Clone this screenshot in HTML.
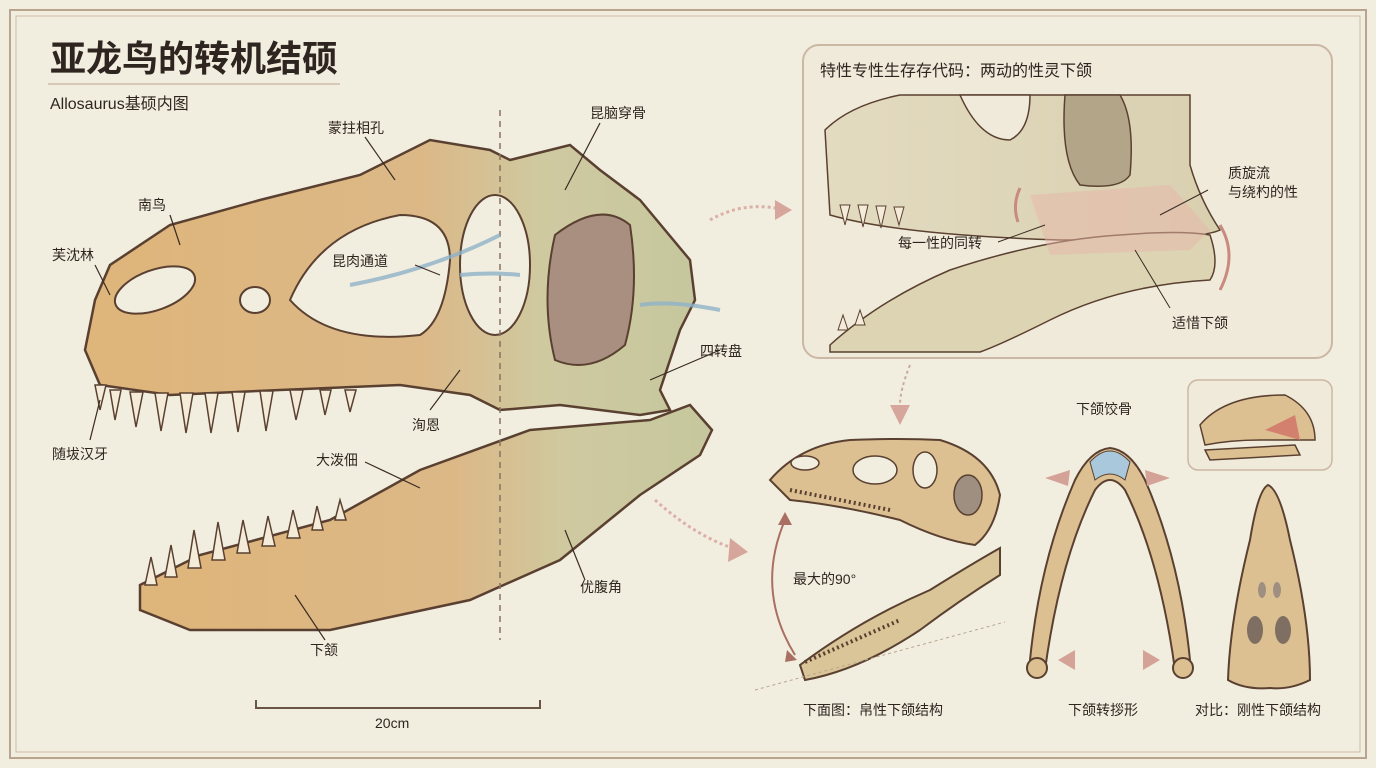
<!DOCTYPE html>
<html><head><meta charset="utf-8"><style>
body{margin:0;width:1376px;height:768px;overflow:hidden;background:#f2eedf;font-family:"Liberation Sans","Noto Sans CJK SC",sans-serif;}
svg{position:absolute;left:0;top:0}
text{font-family:"Liberation Sans","Noto Sans CJK SC",sans-serif;fill:#2e2520}
</style></head><body>
<svg width="1376" height="768" viewBox="0 0 1376 768">
<defs>
<linearGradient id="bone" x1="0" x2="1" y1="0" y2="0">
<stop offset="0" stop-color="#deb57a"/><stop offset="0.55" stop-color="#dcb887"/><stop offset="0.75" stop-color="#cfc9a0"/><stop offset="1" stop-color="#c6c79e"/></linearGradient>
<linearGradient id="panel" x1="0" x2="1"><stop offset="0" stop-color="#e3dbc0"/><stop offset="1" stop-color="#d9d0b0"/></linearGradient>
</defs>
<rect x="0" y="0" width="1376" height="768" fill="#f2eedf"/>
<rect x="10" y="10" width="1356" height="748" fill="none" stroke="#b9a48e" stroke-width="2"/>
<rect x="16" y="16" width="1344" height="736" fill="none" stroke="#cdbba6" stroke-width="1"/>
<text x="50" y="71" font-size="36" font-weight="bold" fill="#3a2c22">亚龙鸟的转机结硕</text>
<line x1="48" y1="84" x2="340" y2="84" stroke="#b9a48e" stroke-width="1"/>
<text x="50" y="109" font-size="16">Allosaurus基硕内图</text>

<path d="M95,300 L110,265 L170,225 L260,200 L360,175 L430,140 L490,150 L510,160 L570,145 L600,170 L640,200 L690,260 L695,300 L680,330 L660,390 L670,410 L640,415 L560,405 L500,410 L470,395 L400,385 L280,390 L170,395 L100,385 L85,350 Z" fill="url(#bone)" stroke="#5a4030" stroke-width="2.5"/>
<ellipse cx="155" cy="290" rx="42" ry="20" transform="rotate(-20 155 290)" fill="#f2eedf" stroke="#5a4030" stroke-width="2"/>
<ellipse cx="255" cy="300" rx="15" ry="13" fill="#f2eedf" stroke="#5a4030" stroke-width="2"/>
<path d="M290,300 Q320,230 400,215 Q450,215 450,260 Q445,320 420,335 Q330,345 290,300Z" fill="#f2eedf" stroke="#5a4030" stroke-width="2"/>
<ellipse cx="495" cy="265" rx="35" ry="70" fill="#f2eedf" stroke="#5a4030" stroke-width="2"/>
<path d="M555,235 Q600,200 630,225 Q640,290 625,345 Q590,375 555,360 Q540,300 555,235Z" fill="#a88f7f" stroke="#5a4030" stroke-width="2"/>
<g fill="#f4ecd8" stroke="#5a4030" stroke-width="1.5">
<path d="M95,385 l5,25 l6,-25Z"/><path d="M110,390 l5,30 l6,-30Z"/><path d="M130,392 l6,35 l7,-35Z"/><path d="M155,393 l6,38 l7,-38Z"/><path d="M180,393 l6,40 l7,-40Z"/><path d="M205,393 l6,40 l7,-40Z"/><path d="M232,392 l6,40 l7,-40Z"/><path d="M260,391 l6,40 l7,-40Z"/><path d="M290,390 l6,30 l7,-30Z"/><path d="M320,390 l5,25 l6,-25Z"/><path d="M345,390 l5,22 l6,-22Z"/>
</g>
<path d="M140,585 L200,555 L330,520 L420,470 L530,430 L650,420 L690,405 L712,430 L700,455 L640,495 L560,560 L470,600 L330,630 L190,630 L140,610 Z" fill="url(#bone)" stroke="#5a4030" stroke-width="2.5"/>
<g fill="#f4ecd8" stroke="#5a4030" stroke-width="1.5">
<path d="M145,585 l6,-28 l6,28Z"/><path d="M165,577 l6,-32 l6,32Z"/><path d="M188,568 l6,-38 l7,38Z"/><path d="M212,560 l6,-38 l7,38Z"/><path d="M237,553 l6,-33 l7,33Z"/><path d="M262,546 l6,-30 l7,30Z"/><path d="M287,538 l6,-28 l7,28Z"/><path d="M312,530 l5,-24 l6,24Z"/><path d="M335,520 l5,-20 l6,20Z"/>
</g>
<line x1="500" y1="110" x2="500" y2="640" stroke="#8a7060" stroke-width="1.5" stroke-dasharray="6,5"/>
<g stroke="#8fb2c8" stroke-width="4" fill="none" opacity="0.8">
<path d="M500,235 Q430,270 350,285"/><path d="M520,275 Q490,272 460,275"/><path d="M720,310 Q670,300 640,305"/>
</g>
<g stroke="#3a2c22" stroke-width="1.2">
<line x1="365" y1="137" x2="395" y2="180"/><line x1="170" y1="215" x2="180" y2="245"/><line x1="95" y1="265" x2="110" y2="295"/>
<line x1="600" y1="123" x2="565" y2="190"/><line x1="415" y1="265" x2="440" y2="275"/><line x1="720" y1="350" x2="650" y2="380"/>
<line x1="430" y1="410" x2="460" y2="370"/><line x1="90" y1="440" x2="100" y2="400"/><line x1="365" y1="462" x2="420" y2="488"/>
<line x1="585" y1="580" x2="565" y2="530"/><line x1="325" y1="640" x2="295" y2="595"/>
</g>
<g font-size="14">
<text x="328" y="133">蒙拄相孔</text><text x="138" y="210">南鸟</text><text x="52" y="260">芙沈林</text><text x="590" y="118">昆脑穿骨</text>
<text x="332" y="266">昆肉通道</text><text x="700" y="356">四转盘</text><text x="412" y="430">洵恩</text><text x="52" y="459">随坺汉牙</text>
<text x="316" y="465">大泼佃</text><text x="580" y="592">优腹角</text><text x="310" y="655">下颔</text><text x="375" y="728">20cm</text>
</g>
<path d="M256,700 V708 H540 V700" fill="none" stroke="#6a5444" stroke-width="2"/>

<path d="M710,220 Q745,200 785,210" stroke="#dbb0a8" stroke-width="3" fill="none" stroke-dasharray="3,3"/>
<path d="M775,200 L792,210 L775,220Z" fill="#d6a59c"/>
<path d="M655,500 Q700,540 740,550" stroke="#dbb0a8" stroke-width="3" fill="none" stroke-dasharray="3,3"/>
<path d="M730,538 L748,552 L728,562Z" fill="#d6a59c"/>
<path d="M910,365 Q900,390 900,405" stroke="#c9aaa0" stroke-width="2" fill="none" stroke-dasharray="3,3"/>
<path d="M890,405 L900,425 L910,405Z" fill="#d6a59c"/>

<rect x="803" y="45" width="529" height="313" rx="16" fill="#f0eada" stroke="#cbb7a4" stroke-width="2"/>
<path d="M825,130 Q850,105 900,95 L1190,95 L1190,165 Q1200,200 1220,230 Q1200,240 1060,240 Q900,235 830,215Z" fill="url(#panel)" stroke="#5a4030" stroke-width="1.5"/>
<path d="M1065,95 Q1060,160 1080,185 Q1120,190 1130,175 Q1135,120 1120,95Z" fill="#b3a688" stroke="#5a4030" stroke-width="1.5"/>
<path d="M960,95 Q980,140 1010,140 Q1030,130 1030,95Z" fill="#f0eada" stroke="#5a4030" stroke-width="1.5"/>
<path d="M830,352 L830,345 Q880,300 950,270 Q1040,240 1120,235 Q1180,230 1210,235 Q1220,265 1210,280 Q1120,285 1050,320 Q1000,345 980,352Z" fill="#ddd4b4" stroke="#5a4030" stroke-width="1.5"/>
<path d="M1030,195 L1170,185 L1210,230 L1190,250 L1050,255Z" fill="#e7b6a8" opacity="0.5"/>
<g fill="#f4ecd8" stroke="#5a4030" stroke-width="1"><path d="M840,205 l5,20 l5,-20Z"/><path d="M858,205 l5,22 l5,-22Z"/><path d="M876,206 l5,22 l5,-22Z"/><path d="M894,207 l5,18 l5,-18Z"/><path d="M838,330 l5,-15 l5,15Z"/><path d="M855,325 l5,-15 l5,15Z"/></g>
<g stroke="#c98a80" stroke-width="3" fill="none"><path d="M1020,188 Q1012,205 1018,222"/><path d="M1220,225 Q1238,255 1220,290"/></g>
<text x="820" y="76" font-size="16">特性专性生存存代码：两动的性灵下颌</text>
<g font-size="14"><text x="898" y="248">每一性的同转</text><text x="1228" y="178">质旋流</text><text x="1228" y="197">与绕杓的性</text><text x="1172" y="328">适惜下颌</text></g>
<g stroke="#3a2c22" stroke-width="1"><line x1="998" y1="242" x2="1045" y2="225"/><line x1="1208" y1="190" x2="1160" y2="215"/><line x1="1170" y1="308" x2="1135" y2="250"/></g>

<path d="M770,480 Q800,445 850,440 Q900,438 940,440 Q990,455 1000,495 Q995,530 975,545 Q940,540 900,520 Q840,505 790,500Z" fill="#dcc092" stroke="#5a4030" stroke-width="2"/>
<ellipse cx="805" cy="463" rx="14" ry="7" fill="#f2eedf" stroke="#5a4030" stroke-width="1.5"/>
<ellipse cx="875" cy="470" rx="22" ry="14" fill="#f2eedf" stroke="#5a4030" stroke-width="1.5"/>
<ellipse cx="925" cy="470" rx="12" ry="18" fill="#f2eedf" stroke="#5a4030" stroke-width="1.5"/>
<ellipse cx="968" cy="495" rx="14" ry="20" fill="#9e8f80" stroke="#5a4030" stroke-width="1.5"/>
<path d="M800,665 Q860,620 930,590 Q970,565 1000,548 L1000,575 Q960,600 920,630 Q860,670 805,680Z" fill="#d9c597" stroke="#5a4030" stroke-width="2"/>
<path d="M790,490 L890,510" stroke="#5a4030" stroke-width="4" stroke-dasharray="2,3"/>
<path d="M805,662 L900,620" stroke="#5a4030" stroke-width="4" stroke-dasharray="2,3"/>
<path d="M785,520 Q755,590 795,655" stroke="#a86f62" stroke-width="2" fill="none"/>
<path d="M778,525 L785,512 L792,525Z" fill="#a86f62"/><path d="M787,650 L797,660 L785,662Z" fill="#a86f62"/>
<line x1="755" y1="690" x2="1005" y2="622" stroke="#b9a48e" stroke-dasharray="3,3"/>
<text x="793" y="584" font-size="14">最大的90°</text>

<path d="M1030,660 Q1040,560 1075,480 Q1090,450 1110,448 Q1130,450 1145,480 Q1180,560 1190,660 L1175,670 Q1160,560 1125,490 Q1110,470 1095,490 Q1060,560 1045,670Z" fill="#dcc092" stroke="#5a4030" stroke-width="2"/>
<path d="M1090,462 Q1110,440 1130,462 L1125,480 Q1110,468 1095,480Z" fill="#a9c8dc" stroke="#5a4030" stroke-width="1"/>
<circle cx="1037" cy="668" r="10" fill="#dcc092" stroke="#5a4030" stroke-width="2"/><circle cx="1183" cy="668" r="10" fill="#dcc092" stroke="#5a4030" stroke-width="2"/>
<g fill="#d4a297"><path d="M1045,478 L1070,470 L1068,486Z"/><path d="M1170,478 L1145,470 L1147,486Z"/><path d="M1058,660 L1075,650 L1075,670Z"/><path d="M1160,660 L1143,650 L1143,670Z"/></g>
<text x="1076" y="414" font-size="14">下颌饺骨</text>

<rect x="1188" y="380" width="144" height="90" rx="10" fill="#f0eada" stroke="#cbb7a4" stroke-width="1.5"/>
<path d="M1200,425 Q1225,395 1285,395 Q1315,410 1315,440 L1260,440 Q1230,440 1205,445Z" fill="#dcc092" stroke="#5a4030" stroke-width="1.5"/>
<path d="M1205,450 L1295,445 L1300,455 L1210,460Z" fill="#dcc092" stroke="#5a4030" stroke-width="1.5"/>
<path d="M1265,430 L1295,415 L1300,440Z" fill="#d4806f"/>

<path d="M1268,485 Q1280,490 1290,540 Q1310,620 1310,680 Q1290,690 1270,688 Q1245,690 1228,680 Q1230,620 1250,540 Q1258,490 1268,485Z" fill="#dcc092" stroke="#5a4030" stroke-width="2"/>
<ellipse cx="1255" cy="630" rx="8" ry="14" fill="#7e6f62"/><ellipse cx="1283" cy="630" rx="8" ry="14" fill="#7e6f62"/>
<ellipse cx="1262" cy="590" rx="4" ry="8" fill="#9e8f80"/><ellipse cx="1277" cy="590" rx="4" ry="8" fill="#9e8f80"/>

<g font-size="14"><text x="803" y="715">下面图：帛性下颌结构</text><text x="1068" y="715">下颌转拶形</text><text x="1195" y="715">对比：刚性下颌结构</text></g>
</svg>
</body></html>
